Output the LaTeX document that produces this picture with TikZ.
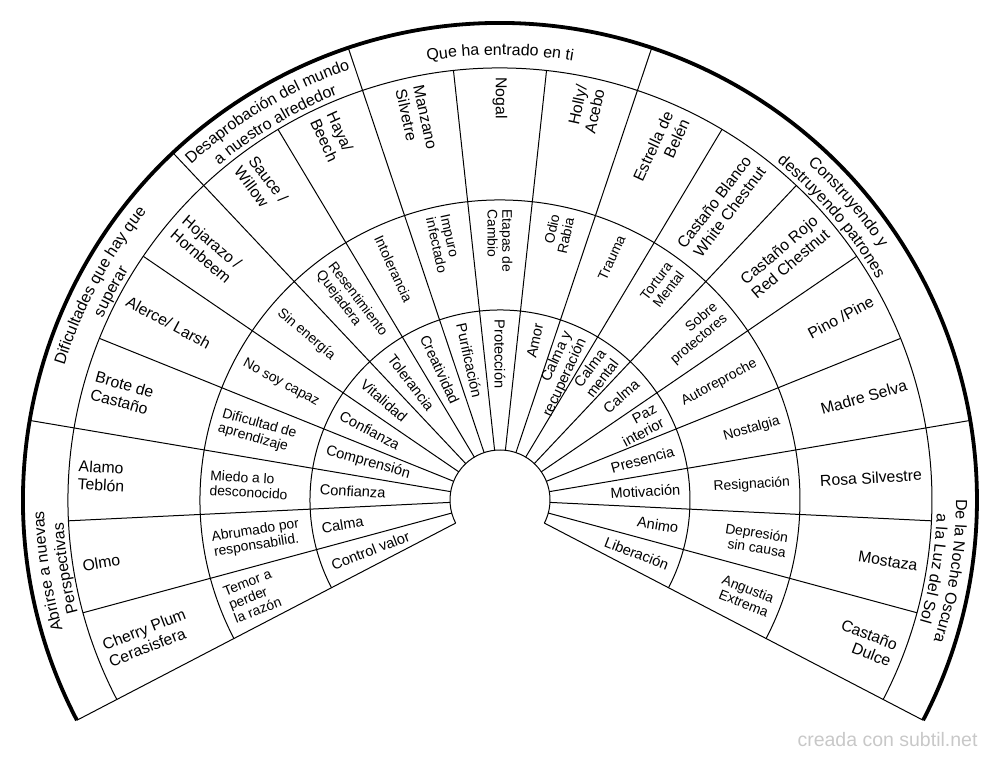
\documentclass[tikz,border=0pt]{standalone}
\usepackage{fontspec}
\setmainfont{Liberation Sans}
\usetikzlibrary{decorations.text}
\definecolor{wmgray}{RGB}{200,200,200}
\newcommand\ringlabels[4]{%
  \foreach \k/\txt in {#4}{%
    \pgfmathsetmacro\ang{207.5-(\k+0.5)*235/19}%
    \pgfmathtruncatemacro\lft{\ang>89 ? 1 : 0}%
    \ifnum\lft=1
      \node[lab, font=#2, rotate=\ang-180, anchor=west, align=left] (#3\k) at (\ang:#1) {\txt};
    \else
      \node[lab, font=#2, rotate=\ang, anchor=east, align=right] (#3\k) at (\ang:#1) {\txt};
    \fi
  }}
\newcommand\grouptext[3]{%
  \path[decorate, decoration={text along path, text align=center,
     text={|\fontsize{16}{19}\selectfont|#3}}]
     (#1+30:#2) arc[start angle=#1+30, end angle=#1-30, radius=#2];}
\begin{document}
\begin{tikzpicture}[x=1pt,y=1pt,
  thinline/.style={line width=1pt, black},
  rimline/.style={line width=3.8pt, black},
  lab/.style={inner sep=0.3pt, text=black}]
\useasboundingbox (0,0) rectangle (1000,760);
\begin{scope}[shift={(500,260)}]
  % rings
  \foreach \r in {50,190,300,432}
    \draw[thinline] (207.5:\r) arc[start angle=207.5, end angle=-27.5, radius=\r];
  \draw[rimline] (207.5:477) arc[start angle=207.5, end angle=-27.5, radius=477];
  % sector lines
  \foreach \j in {0,...,19}{
    \pgfmathsetmacro\b{207.5-\j*235/19}
    \draw[thinline] (\b:50) -- (\b:432);
  }
  % group lines
  \foreach \j in {0,3,6,8,11,16,19}{
    \pgfmathsetmacro\b{207.5-\j*235/19}
    \draw[thinline] (\b:432) -- (\b:477);
  }
  % ring 1
  \ringlabels{181}{\fontsize{14.6}{16}\selectfont}{a}{0/{Control valor},1/{Calma},2/{Confianza},3/{Comprensión},4/{Confianza},5/{Vitalidad},6/{Tolerancia},7/{Creatividad},8/{Purificación},9/{Protección},10/{Amor},11/{Calma y\\recuperación},12/{Calma\\mental},13/{Calma},14/{Paz\\interior},15/{Presencia},16/{Motivación},17/{Animo},18/{Liberación}}
  % ring 2
  \ringlabels{291}{\fontsize{13.9}{14.8}\selectfont}{b}{0/{Temor a\\perder\\la razón},1/{Abrumado por\\responsabilid.},2/{Miedo a lo\\desconocido},3/{Dificultad de\\aprendizaje},4/{No soy capaz},5/{Sin energía},6/{Resentimiento\\Quejadera},7/{Intolerancia},8/{Impuro\\infectado},9/{Etapas de\\Cambio},10/{Odio\\Rabia},11/{Trauma},12/{Tortura\\Mental},13/{Sobre\\protectores},14/{Autoreproche},15/{Nostalgia},16/{Resignación},17/{Depresión\\sin causa},18/{Angustia\\Extrema}}
  % ring 3
  \ringlabels{423}{\fontsize{15.8}{18}\selectfont}{c}{0/{Cherry Plum\\Cerasisfera},1/{Olmo},2/{Alamo\\Teblón},3/{Brote de\\Castaño},4/{Alerce/ Larsh},5/{Hojarazo /\\Hornbeem},6/{Sauce /\\Willow},7/{Haya/\\Beech},8/{Manzano\\Silvetre},9/{Nogal},10/{Holly/\\Acebo},11/{Estrella de\\Belén},12/{Castaño Blanco\\White Chestnut},13/{Castaño Rojo\\Red Chestnut},14/{Pino /Pine},15/{Madre Selva},16/{Rosa Silvestre},17/{Mostaza},18/{Castaño\\Dulce}}
  % groups
  \grouptext{188.95}{456}{Abrirse a nuevas}
  \grouptext{188.95}{437}{Perspectivas}
  \grouptext{151.84}{456}{Dificultades que hay que}
  \grouptext{151.84}{437}{superar}
  \grouptext{120.92}{456}{Desaprobación del mundo}
  \grouptext{120.92}{437}{a nuestro alrededor}
  \grouptext{90}{445}{Que ha entrado en ti}
  \grouptext{40.53}{456}{Construyendo y}
  \grouptext{40.53}{437}{destruyendo patrones}
  \grouptext{-8.95}{456}{De la Noche Oscura}
  \grouptext{-8.95}{437}{a la Luz del Sol}
\end{scope}
\node[font=\fontsize{19.5}{22}\selectfont, text=wmgray, anchor=base, inner sep=0pt] (wm) at (887.5,14) {creada con subtil.net};
\end{tikzpicture}
\end{document}
